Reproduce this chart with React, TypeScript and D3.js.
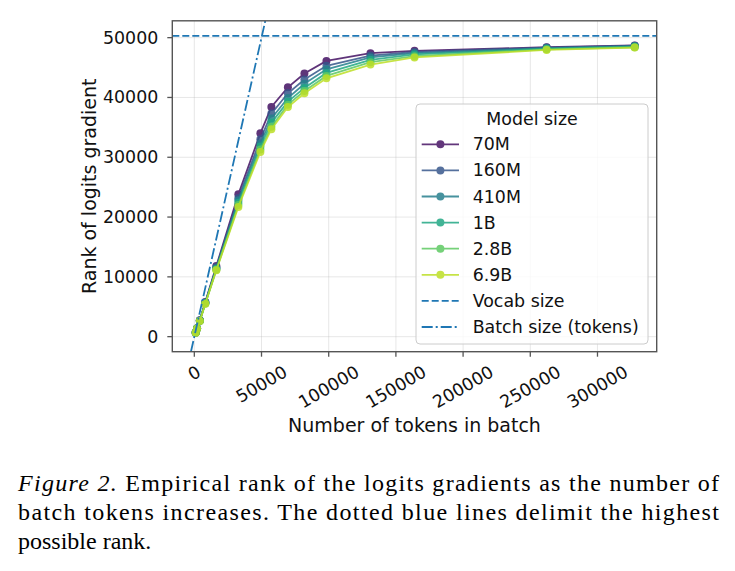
import React from 'react';
import * as d3 from 'd3';

const tokens = [1024, 2048, 4096, 8192, 16384, 32768, 49152, 57344, 69632, 81920, 98304, 131072, 163840, 262144, 327680];
const modelNames = ['70M', '160M', '410M', '1B', '2.8B', '6.9B'];
const rank70M = [700, 1400, 2750, 5800, 11800, 23800, 34000, 38400, 41700, 44000, 46100, 47400, 47800, 48400, 48700];
const rank160M = [690, 1380, 2700, 5700, 11600, 23200, 33000, 37300, 40700, 43000, 45300, 47000, 47600, 48350, 48650];
const rank410M = [680, 1370, 2680, 5650, 11450, 22800, 32300, 36500, 39900, 42300, 44700, 46700, 47400, 48250, 48600];
const rank1B = [675, 1360, 2650, 5600, 11300, 22400, 31800, 35800, 39300, 41600, 44100, 46300, 47200, 48150, 48500];
const rank2_8B = [670, 1350, 2630, 5550, 11200, 22000, 31300, 35100, 38800, 41100, 43600, 45900, 46900, 48050, 48400];
const rank6_9B = [665, 1340, 2600, 5500, 11100, 21700, 30900, 34700, 38400, 40700, 43200, 45500, 46700, 47950, 48350];
const vocabSize = 50304;
const xTickValues = [0, 50000, 100000, 150000, 200000, 250000, 300000];
const yTickValues = [0, 10000, 20000, 30000, 40000, 50000];
const legendExtra = ['Vocab size', 'Batch size (tokens)'];
const colorStops = [0.05, 0.27, 0.43, 0.6, 0.75, 0.9];
const captionLines = [
  'Empirical rank of the logits gradients as the number of',
  'batch tokens increases. The dotted blue lines delimit the highest',
  'possible rank.',
];

const W = 735;
const H = 571;
const L = 172.3, R = 656.7, T = 20.8, B = 351.7;
const FONT = '"DejaVu Sans", sans-serif';
const SERIF = '"Liberation Serif", Tinos, "Nimbus Roman", "Nimbus Roman No9 L", "Times New Roman", Times, "FreeSerif", serif';
const FS = 17.4;
const LFS = 19;
const BLUE = '#1f77b4';

export default function App() {
  const series = [rank70M, rank160M, rank410M, rank1B, rank2_8B, rank6_9B];
  const colors = colorStops.map(t => d3.interpolateViridis(t));

  const xMax = d3.max(tokens)!;
  const xMin = 0;
  const xPad = (xMax - xMin) * 0.05;
  const x = d3.scaleLinear().domain([xMin - xPad, xMax + xPad]).range([L, R]);
  const yPad = vocabSize * 0.05;
  const y = d3.scaleLinear().domain([-yPad, vocabSize + yPad]).range([B, T]);

  const line = d3.line<number>().x((_, i) => x(tokens[i])).y(d => y(d));

  const tickLen = 5;
  const xLabelTop = B + tickLen + 5;
  const digitW = 0.636 * FS;
  const textH = FS * 1.15;

  const legX = 416, legY = 104, legW = 232, legH = 240;
  const entryY0 = 144.3, entryDY = 26.1;

  return (
    <svg width={W} height={H} style={{ position: 'absolute', left: 0, top: 0, background: '#fff' }}>
      <defs>
        <clipPath id="plotclip">
          <rect x={L} y={T} width={R - L} height={B - T} />
        </clipPath>
      </defs>
      <rect x={0} y={0} width={W} height={H} fill="#fff" />
      <g stroke="#b0b0b0" strokeOpacity={0.3} strokeWidth={1}>
        {xTickValues.map(v => <line key={'gx' + v} x1={x(v)} x2={x(v)} y1={T} y2={B} />)}
        {yTickValues.map(v => <line key={'gy' + v} x1={L} x2={R} y1={y(v)} y2={y(v)} />)}
      </g>
      <g clipPath="url(#plotclip)">
        {series.map((s, i) => (
          <g key={modelNames[i]} opacity={0.85}>
            <path d={line(s) || ''} fill="none" stroke={colors[i]} strokeWidth={1.8} />
            {s.map((v, j) => <circle key={j} cx={x(tokens[j])} cy={y(v)} r={4} fill={colors[i]} />)}
          </g>
        ))}
        <line x1={L} x2={R} y1={y(vocabSize)} y2={y(vocabSize)} stroke={BLUE} strokeWidth={1.8} strokeDasharray="7,3" />
        <line x1={x(y.domain()[0])} y1={y(y.domain()[0])} x2={x(y.domain()[1])} y2={y(y.domain()[1])}
          stroke={BLUE} strokeWidth={1.8} strokeDasharray="11,3,2,3" />
      </g>
      <rect x={L} y={T} width={R - L} height={B - T} fill="none" stroke="#555" strokeWidth={1.4} />
      {xTickValues.map(v => {
        const label = String(v);
        const w = label.length * digitW;
        const hb = w * 0.5 + textH * 0.866;
        const cy = xLabelTop + hb / 2;
        return (
          <g key={'xt' + v}>
            <line x1={x(v)} x2={x(v)} y1={B} y2={B + tickLen} stroke="#555" strokeWidth={1.3} />
            <text x={0} y={0} transform={`translate(${x(v)},${cy}) rotate(-30)`} textAnchor="middle"
              dominantBaseline="central" style={{ fontFamily: FONT }} fontSize={FS} fill="#111">{label}</text>
          </g>
        );
      })}
      {yTickValues.map(v => (
        <g key={'yt' + v}>
          <line x1={L - tickLen} x2={L} y1={y(v)} y2={y(v)} stroke="#555" strokeWidth={1.3} />
          <text x={L - tickLen - 9} y={y(v)} textAnchor="end" dominantBaseline="central"
            style={{ fontFamily: FONT }} fontSize={FS} fill="#111">{v}</text>
        </g>
      ))}
      <text x={(L + R) / 2} y={432} textAnchor="middle" style={{ fontFamily: FONT }} fontSize={LFS} fill="#111">Number of tokens in batch</text>
      <text transform={`translate(96,${(T + B) / 2}) rotate(-90)`} textAnchor="middle" style={{ fontFamily: FONT }} fontSize={LFS} fill="#111">Rank of logits gradient</text>
      <rect x={legX} y={legY} width={legW} height={legH} rx={4} fill="#fff" fillOpacity={0.8} stroke="#ccc" strokeWidth={1} />
      <text x={legX + legW / 2} y={119} textAnchor="middle" dominantBaseline="central" style={{ fontFamily: FONT }} fontSize={FS} fill="#111">Model size</text>
      {modelNames.map((m, i) => {
        const ey = entryY0 + i * entryDY;
        return (
          <g key={'lg' + m} opacity={0.85}>
            <line x1={421.7} x2={459} y1={ey} y2={ey} stroke={colors[i]} strokeWidth={1.8} />
            <circle cx={440.4} cy={ey} r={4} fill={colors[i]} />
          </g>
        );
      })}
      {modelNames.map((m, i) => (
        <text key={'lt' + m} x={472.7} y={entryY0 + i * entryDY} dominantBaseline="central" style={{ fontFamily: FONT }} fontSize={FS} fill="#111">{m}</text>
      ))}
      {legendExtra.map((lab, k) => {
        const ey = entryY0 + (modelNames.length + k) * entryDY;
        return (
          <g key={'le' + lab}>
            <line x1={421.7} x2={459} y1={ey} y2={ey} stroke={BLUE} strokeWidth={1.8}
              strokeDasharray={k === 0 ? '7,3' : '11,3,2,3'} />
            <text x={472.7} y={ey} dominantBaseline="central" style={{ fontFamily: FONT }} fontSize={FS} fill="#111">{lab}</text>
          </g>
        );
      })}
      <g fill="#000">
        <text x={18} y={491} textLength={701} lengthAdjust="spacing" style={{ fontFamily: SERIF, fontSize: '24px' }}>
          <tspan style={{ fontStyle: 'italic' }}>Figure 2.</tspan> {captionLines[0]}
        </text>
        <text x={18} y={520} textLength={701} lengthAdjust="spacing" style={{ fontFamily: SERIF, fontSize: '24px' }}>{captionLines[1]}</text>
        <text x={18} y={549} style={{ fontFamily: SERIF, fontSize: '24px' }}>{captionLines[2]}</text>
      </g>
    </svg>
  );
}
